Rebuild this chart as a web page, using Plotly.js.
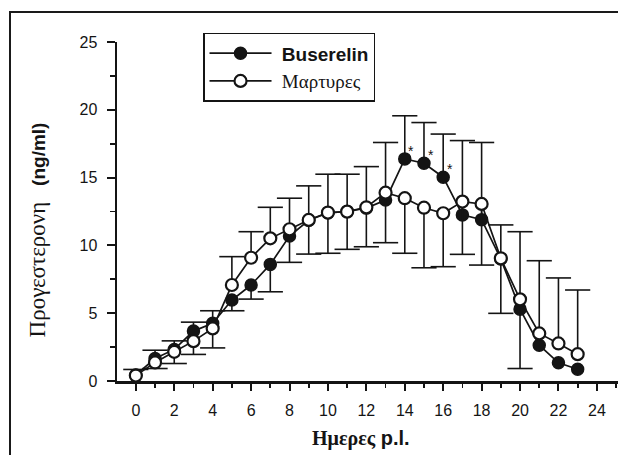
<!DOCTYPE html>
<html><head><meta charset="utf-8">
<script src="https://cdn.plot.ly/plotly-3.0.1.min.js"></script>
<style>
html,body{margin:0;padding:0;background:#fff;overflow:hidden;}
#chart{position:absolute;left:0;top:0;width:618px;height:455px;}
#frame{position:absolute;left:9px;top:11px;width:700px;height:600px;border:2px solid #1a1a1a;pointer-events:none;}
</style></head><body>
<div id="chart"></div><div id="frame"></div>
<script>
const days = [0,1,2,3,4,5,6,7,8,9,10,11,12,13,14,15,16,17,18,19,20,21,22,23];
const buserelin = [0.45,1.66,2.33,3.68,4.25,5.97,7.08,8.6,10.69,11.85,12.4,12.5,12.75,13.35,16.38,16.06,15.03,12.25,11.9,9.0,5.3,2.64,1.34,0.87];
const martyres = [0.4,1.37,2.15,2.94,3.88,7.08,9.09,10.52,11.19,11.88,12.42,12.49,12.81,13.89,13.48,12.78,12.37,13.23,13.06,9.05,6.02,3.51,2.77,1.98];
// one-sided SD bars as drawn in the figure (0 = not drawn)
const busPlus  = [0.4,0.61,0.63,0.66,0.93,0,0,0,0,0,0,0,0,0,3.18,3.0,3.18,5.48,5.69,0,0,0,0,0];
const busMinus = [0,0,0,0,0,0.79,1.04,2.02,1.94,0,0,0,0,0,0,0,0,0,0,4.01,0,0,0,0];
const marPlus  = [0,0,0,0,0,2.09,1.92,2.29,2.29,2.51,2.83,2.76,3.0,3.7,0,0,0,0,0,2.46,4.99,5.36,4.83,4.73];
const marMinus = [0,0.45,0.86,0.98,1.44,0,0,0,0,2.52,3.0,2.78,2.91,3.69,4.06,4.43,3.94,3.89,4.51,0,5.1,0,0,0];
const sigDays = [14,15,16];
const xTickVals = [0,2,4,6,8,10,12,14,16,18,20,22,24];
const yTickVals = [0,5,10,15,20,25];
const seriesNames = ['\u00A0<b>Buserelin</b>', '\u00A0<span style="font-family:\'Liberation Serif\'">Μαρτυρες</span>'];
const xTitle = '<b><span style="font-family:\'Liberation Serif\'">Ημερες</span> p.l.</b>';
const yTitle = '<span style="font-family:\'Liberation Serif\';font-size:23px">Προγεστερονη</span>\u00A0\u00A0\u00A0<b>(ng/ml)</b>';

const ink = '#141414';

// cap positions derived from data
const capX = [], capY = [];
function addCaps(vals, plus, minus){
  for (let i=0;i<days.length;i++){
    if (plus[i]>0){ capX.push(days[i]); capY.push(vals[i]+plus[i]); }
    if (minus[i]>0){ capX.push(days[i]); capY.push(vals[i]-minus[i]); }
  }
}
addCaps(buserelin, busPlus, busMinus);
addCaps(martyres, marPlus, marMinus);

const traces = [
  {x: capX, y: capY, mode:'markers', showlegend:false, hoverinfo:'skip',
   marker:{symbol:'line-ew', size:18, color:ink, line:{width:1.6, color:ink}}},
  {x: days, y: buserelin, name: seriesNames[0], mode:'lines+markers',
   line:{color:ink, width:1.7},
   marker:{symbol:'circle', size:12, color:ink, line:{width:1.5, color:ink}},
   error_y:{type:'data', symmetric:false, array:busPlus, arrayminus:busMinus, width:0, thickness:1.6, color:ink}},
  {x: days, y: martyres, name: seriesNames[1], mode:'lines+markers',
   line:{color:ink, width:1.7},
   marker:{symbol:'circle', size:12, color:'#ffffff', line:{width:2.2, color:ink}},
   error_y:{type:'data', symmetric:false, array:marPlus, arrayminus:marMinus, width:0, thickness:1.6, color:ink}}
];

const annotations = sigDays.map(d => ({
  x: d + 0.35, y: buserelin[days.indexOf(d)] + 0.6, text: '*', showarrow:false,
  font:{family:'Liberation Sans', size:14, color:ink}
}));
// axis titles placed as in the original figure (off-centre)
annotations.push({xref:'paper', yref:'paper', x:-0.1597, y:0.447, xanchor:'center', yanchor:'middle',
  text:yTitle, textangle:-90, showarrow:false, font:{family:'Liberation Sans', size:19, color:ink}});
annotations.push({xref:'paper', yref:'paper', x:0.487, y:-0.171, xanchor:'center', yanchor:'middle',
  text:xTitle, showarrow:false, font:{family:'Liberation Sans', size:20, color:ink}});

const layout = {
  width:618, height:455,
  margin:{l:117, r:0, t:42, b:74, pad:0},
  paper_bgcolor:'#ffffff', plot_bgcolor:'#ffffff',
  font:{family:'Liberation Sans, Arial, sans-serif', color:ink},
  showlegend:true,
  legend:{x:0.1717, y:1.027, xanchor:'left', yanchor:'top',
    bordercolor:ink, borderwidth:1.5, bgcolor:'#ffffff',
    font:{family:'Liberation Sans', size:19, color:ink}, itemwidth:62, tracegroupgap:0},
  xaxis:{range:[-0.98, 25.1], showgrid:false, zeroline:false,
    showline:true, linecolor:ink, linewidth:2.5,
    ticks:'outside', tickvals:xTickVals, ticklen:7, tickwidth:2, tickcolor:ink,
    minor:{dtick:1, tick0:0, ticks:'outside', ticklen:4, tickwidth:1.8, tickcolor:ink, showgrid:false},
    tickfont:{family:'Liberation Sans', size:16, color:ink}, ticklabelstandoff:6},
  yaxis:{range:[0,25], showgrid:false, zeroline:false,
    showline:true, linecolor:ink, linewidth:2.5,
    ticks:'outside', tickvals:yTickVals, ticklen:8, tickwidth:2, tickcolor:ink,
    minor:{dtick:2.5, tick0:0, ticks:'outside', ticklen:5, tickwidth:1.8, tickcolor:ink, showgrid:false},
    tickfont:{family:'Liberation Sans', size:16, color:ink}, ticklabelstandoff:6},
  annotations: annotations
};

Plotly.newPlot('chart', traces, layout, {staticPlot:true, displayModeBar:false});
</script>
</body></html>
